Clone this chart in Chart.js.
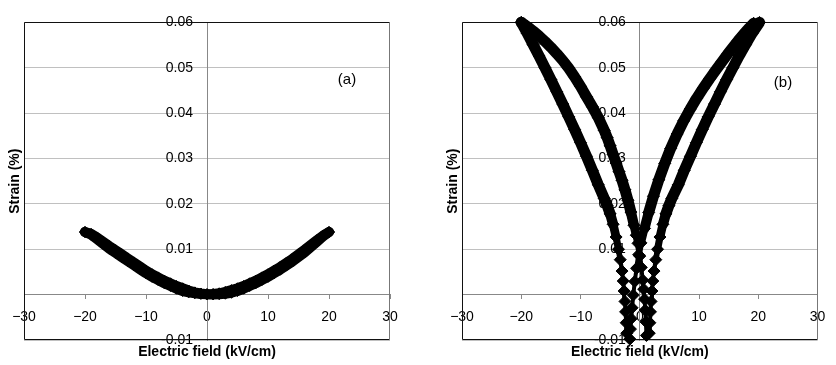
<!DOCTYPE html>
<html><head><meta charset="utf-8">
<script src="https://cdn.jsdelivr.net/npm/chart.js@4.4.0/dist/chart.umd.min.js"></script>
<style>
html,body{margin:0;padding:0;background:#fff;}
#wrap{position:relative;width:836px;height:365px;background:#fff;}
canvas{position:absolute;top:0;}
#ca{left:0;}
#cb{left:420px;}
</style></head><body>
<div id="wrap"><canvas id="ca" width="420" height="365"></canvas><canvas id="cb" width="416" height="365"></canvas></div>
<script>
// ---- texts / tick labels ----
const xTitle = 'Electric field (kV/cm)';
const yTitle = 'Strain (%)';
const xTickLabels = ['\u221230', '\u221220', '\u221210', '0', '10', '20', '30'];
const yTickLabels = ['-0.01', '', '0.01', '0.02', '0.03', '0.04', '0.05', '0.06'];
const panelA = '(a)';
const panelB = '(b)';

// ---- panel (a): field sweep up (-20 -> 20) and down (20 -> -20) ----
const aUpField = [-20,-19,-18,-17,-16,-15,-14,-13,-12,-11,-10,-9,-8,-7,-6,-5,-4,-3,-2,-1,0,1,2,3,4,5,6,7,8,9,10,11,12,13,14,15,16,17,18,19,20];
const aUpStrain = [0.0138,0.0134,0.0126,0.01165,0.0107,0.0098,0.0089,0.0080,0.0071,0.0062,0.0053,0.0045,0.0038,0.0031,0.0025,0.0019,0.0014,0.0009,0.0005,0.00025,0.0001,0.00005,0.0001,0.0002,0.0004,0.0008,0.0013,0.0019,0.0025,0.0032,0.0039,0.0047,0.0055,0.0064,0.0073,0.0083,0.0093,0.01045,0.0116,0.0128,0.0138];
const aDownField = [20,19,18,17,16,15,14,13,12,11,10,9,8,7,6,5,4,3,2,1,0,-1,-2,-3,-4,-5,-6,-7,-8,-9,-10,-11,-12,-13,-14,-15,-16,-17,-18,-19,-20];
const aDownStrain = [0.0138,0.0130,0.0120,0.01095,0.0099,0.0089,0.0079,0.0070,0.0061,0.0053,0.0045,0.0038,0.0031,0.0025,0.0019,0.0014,0.0010,0.0006,0.0003,0.00015,0.0001,0.00015,0.0003,0.0005,0.0008,0.0013,0.0019,0.0025,0.0032,0.0039,0.0047,0.0056,0.0065,0.0074,0.0083,0.0092,0.0101,0.01115,0.0122,0.0132,0.0138];

// ---- panel (b): four visible arms of the butterfly loop ----
const bInnerLeftField = [-20,-19,-18,-17,-16,-15,-14,-13,-12,-11,-10,-9,-8,-7,-6,-5.5,-5,-4.5,-4,-3.5,-3,-2.5,-2,-1.5,-1,-0.6,-0.3,0,0.25,0.5,0.65,0.8,0.92,1.03,1.12];
const bInnerLeftStrain = [0.0600,0.0591,0.0581,0.0570,0.0558,0.0545,0.0531,0.0516,0.0499,0.0480,0.0459,0.0436,0.0414,0.0390,0.0362,0.0346,0.0328,0.0309,0.0290,0.0271,0.0252,0.0231,0.0208,0.0182,0.0153,0.0131,0.0113,0.0085,0.0060,0.0032,0.0012,-0.0010,-0.0034,-0.0060,-0.0090];
const bOuterRightField = [1.6,1.7,1.8,1.9,2.05,2.2,2.4,2.7,3.0,3.4,3.9,4.4,4.9,5.4,6.5,7.5,8.55,9.55,10.55,11.55,12.6,13.6,14.65,15.7,16.75,17.85,18.95,20.2];
const bOuterRightStrain = [-0.0085,-0.0062,-0.0038,-0.0015,0.0008,0.0030,0.0052,0.0077,0.0100,0.0127,0.0155,0.0178,0.0196,0.0212,0.0242,0.0274,0.0305,0.0335,0.0364,0.0392,0.0420,0.0447,0.0474,0.0500,0.0526,0.0551,0.0576,0.0600];
const bInnerRightField = [19.2,18.4,17.5,16.6,15.7,14.8,13.9,12.9,11.8,10.7,9.6,8.5,7.4,6.3,5.2,4.2,3.2,2.3,1.5,0.8,0.2,-0.2,-0.55,-0.85,-1.1,-1.3,-1.45,-1.58,-1.68];
const bInnerRightStrain = [0.0598,0.0587,0.0574,0.0560,0.0545,0.0530,0.0514,0.0496,0.0476,0.0455,0.0433,0.0409,0.0383,0.0354,0.0322,0.0289,0.0253,0.0217,0.0181,0.0146,0.0114,0.0088,0.0058,0.0029,-0.0001,-0.0029,-0.0053,-0.0076,-0.0098];
const bOuterLeftField = [-2.2,-2.3,-2.4,-2.5,-2.65,-2.8,-3.0,-3.3,-3.6,-4,-4.5,-5,-5.5,-6,-7,-8,-9,-10,-11,-12,-13,-14,-15,-16,-17,-18,-19,-20];
const bOuterLeftStrain = [-0.0085,-0.0062,-0.0038,-0.0015,0.0008,0.0030,0.0052,0.0077,0.0100,0.0127,0.0155,0.0178,0.0196,0.0212,0.0242,0.0274,0.0305,0.0335,0.0364,0.0392,0.0420,0.0447,0.0474,0.0500,0.0526,0.0551,0.0576,0.0600];

Chart.defaults.font.family = '"Liberation Sans", Arial, sans-serif';
Chart.defaults.font.size = 14;
Chart.defaults.color = '#000';

const pts = (xs, ys) => xs.map((x, i) => ({ x: x, y: ys[i] }));

// band width of the marker trail: thin where the diamonds are sparse (near the bottom)
function trailWidth(thin, thick, lo, hi) {
  return c => {
    const m = (c.p0.parsed.y + c.p1.parsed.y) / 2;
    if (m <= lo) return thin;
    if (m >= hi) return thick;
    return thin + (thick - thin) * (m - lo) / (hi - lo);
  };
}

function series(xs, ys, lineW, r, seg) {
  const d = {
    data: pts(xs, ys),
    showLine: true,
    tension: 0,
    borderColor: '#000',
    backgroundColor: '#000',
    borderWidth: lineW,
    borderJoinStyle: 'round',
    borderCapStyle: 'round',
    pointStyle: 'rectRot',
    pointRadius: r,
    pointHoverRadius: r,
    pointBorderWidth: 1,
    pointBorderColor: '#000',
    pointBackgroundColor: '#000',
    clip: 8
  };
  if (seg) d.segment = { borderWidth: seg };
  return d;
}

const framePlugin = {
  id: 'frame',
  beforeDatasetsDraw(chart) {
    const a = chart.chartArea, ctx = chart.ctx;
    const L = Math.round(a.left) + 0.5, R = Math.round(a.right) - 0.5;
    const T = Math.round(a.top) + 0.5, B = Math.round(a.bottom) - 0.5;
    ctx.save();
    ctx.lineWidth = 1;
    ctx.strokeStyle = '#111';
    ctx.beginPath();
    ctx.moveTo(R, T); ctx.lineTo(L, T); ctx.lineTo(L, B); ctx.lineTo(R, B);
    ctx.stroke();
    ctx.strokeStyle = '#777';
    ctx.beginPath();
    ctx.moveTo(R, T); ctx.lineTo(R, B);
    ctx.stroke();
    ctx.restore();
  }
};
const labelPlugin = {
  id: 'panelLabel',
  afterDraw(chart, args, opts) {
    const ctx = chart.ctx;
    ctx.save();
    ctx.font = '15px "Liberation Sans", Arial, sans-serif';
    ctx.fillStyle = '#000';
    ctx.textAlign = 'center';
    ctx.textBaseline = 'middle';
    ctx.fillText(opts.text, opts.x, opts.y);
    ctx.restore();
  }
};

function makeChart(id, datasets, L) {
  return new Chart(document.getElementById(id), {
    type: 'scatter',
    data: { datasets: datasets },
    options: {
      responsive: false,
      animation: false,
      devicePixelRatio: 1,
      events: [],
      layout: { padding: { left: L.padLeft, right: L.padRight, top: L.padTop, bottom: 0 } },
      plugins: {
        legend: { display: false },
        tooltip: { enabled: false },
        title: { display: true, text: yTitle, position: 'left', fullSize: false, color: '#000',
                 font: { size: 14, weight: 'bold' }, padding: { top: 6.6, bottom: 0.6 } },
        subtitle: { display: true, text: xTitle, position: 'bottom', fullSize: false, color: '#000',
                    font: { size: 14, weight: 'bold' }, padding: { top: 3.6, bottom: 4.6 } },
        panelLabel: { text: L.label, x: L.lx, y: L.ly }
      },
      scales: {
        x: {
          type: 'linear', min: -30, max: 30, position: { y: 0 },
          ticks: { stepSize: 10, autoSkip: false, maxRotation: 0, padding: 10.6, color: '#000',
                   font: { size: 14 }, callback: (v, i) => xTickLabels[i] },
          grid: { drawOnChartArea: false, drawTicks: true, tickLength: 4, color: '#888' },
          border: { color: '#888', width: 1 }
        },
        y: {
          type: 'linear', min: -0.01, max: 0.06, position: 'center',
          ticks: { stepSize: 0.01, autoSkip: false, padding: 14, color: '#000',
                   font: { size: 14 }, callback: (v, i) => yTickLabels[i] },
          grid: { color: '#c0c0c0', drawTicks: false },
          border: { color: '#888', width: 1 }
        }
      }
    },
    plugins: [framePlugin, labelPlugin]
  });
}

makeChart('ca', [
  series(aUpField, aUpStrain, 10, 5.5),
  series(aDownField, aDownStrain, 10, 5.5)
], { padLeft: 0, padRight: 30, padTop: 11, label: panelA, lx: 347, ly: 80 });

const bTrail = trailWidth(4, 11, 0.006, 0.018);
makeChart('cb', [
  series(bInnerLeftField, bInnerLeftStrain, 11, 6, bTrail),
  series(bOuterRightField, bOuterRightStrain, 11, 6, bTrail),
  series(bInnerRightField, bInnerRightStrain, 11, 6, bTrail),
  series(bOuterLeftField, bOuterLeftStrain, 11, 6, bTrail)
], { padLeft: 18, padRight: 9, padTop: 14, label: panelB, lx: 363, ly: 83 });
</script>
</body></html>
